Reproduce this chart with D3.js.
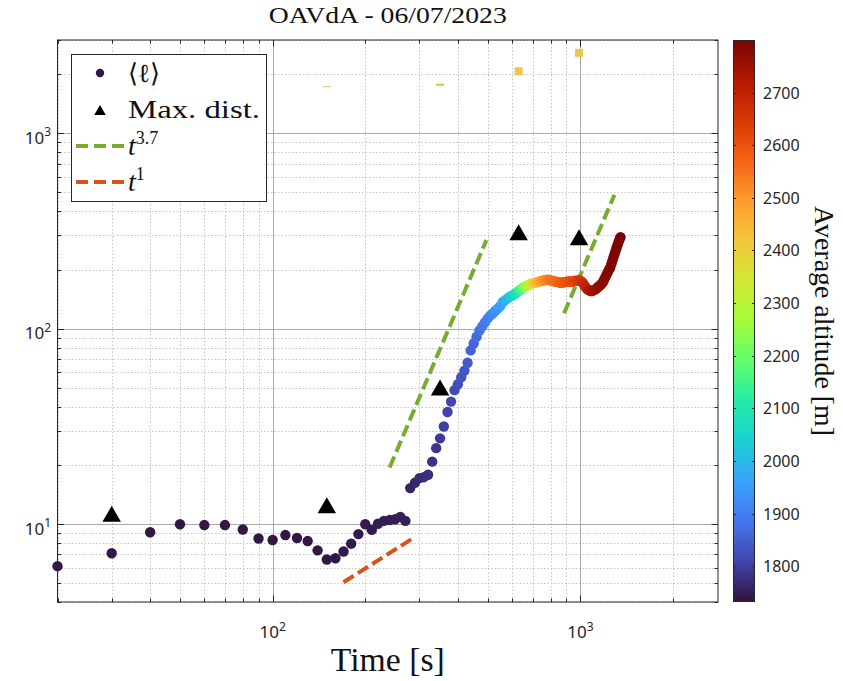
<!DOCTYPE html>
<html>
<head>
<meta charset="utf-8">
<script src="https://cdn.jsdelivr.net/npm/d3@7"></script>
<style>
  body { margin: 0; background: #fff; }
  svg { display: block; }
</style>
</head>
<body>
<svg id="chart" width="843" height="681"></svg>
<script>
// ---- data ----------------------------------------------------------------
// sampling times [s]
const times = [
  20,30,40,50,60,70,80,90,100,110,
  120,130,140,150,160,170,180,190,200,210,
  220,230,240,250,260,270,280,290,300,310,
  320,330,340,350,360,370,380,390,400,410,
  420,430,440,450,460,470,480,490,500,510,
  520,530,540,550,560,570,580,590,600,610,
  620,630,640,650,660,670,680,690,700,710,
  720,730,740,750,760,770,780,790,800,810,
  820,830,840,850,860,870,880,890,900,910,
  920,930,940,950,960,970,980,990,1000,1010,
  1020,1030,1040,1050,1060,1070,1080,1090,1100,1110,
  1120,1130,1140,1150,1160,1170,1180,1190,1200,1210,
  1220,1230,1240,1250,1260,1270,1280,1290,1300,1310,
  1320,1330,1340,1350
];
// mean distance <l> [m]
const meanDist = [
  6.1,7.1,9.1,10.0,9.9,9.9,9.4,8.45,8.3,8.8,
  8.5,8.2,7.35,6.6,6.7,7.25,7.95,8.9,10.0,9.35,
  10.05,10.4,10.5,10.6,10.9,10.4,15.3,16.3,17.2,17.4,
  17.9,20.9,24.5,27.5,31.6,37.5,42.4,48.5,52,56.5,
  61,67,77.5,84,91,98,103,108,113,117,
  120,124,127,131,137,140,143,146,148,150,
  153,156,159,162,164,166,168,170,171,172,
  173,174,175,176,177,177,178,178,177,176,
  175,174,174,173,172,172,173,173,174,174,
  175,174,174,175,176,176,176,177,176,174,
  171,167,163,160,158,157,156,156,157,158,
  159,161,163,165,167,169,172,176,181,186,
  191,196,201,206,214,222,231,240,249,259,
  268,277,286,294
];
// average altitude of the group [m]
const altitude = [
  1741,1740,1740,1739,1739,1739,1739,1739,1739,1739,
  1740,1740,1740,1741,1741,1742,1743,1744,1745,1746,
  1747,1748,1749,1750,1751,1752,1758,1763,1768,1772,
  1777,1783,1788,1794,1800,1806,1812,1818,1824,1830,
  1837,1845,1853,1861,1869,1877,1885,1893,1901,1910,
  1920,1931,1943,1956,1970,1986,2003,2021,2040,2062,
  2088,2118,2150,2185,2222,2260,2298,2335,2370,2402,
  2430,2455,2476,2494,2508,2520,2530,2538,2545,2551,
  2557,2562,2567,2572,2577,2582,2587,2592,2597,2602,
  2607,2612,2617,2622,2628,2634,2641,2648,2656,2665,
  2675,2685,2695,2705,2714,2722,2729,2735,2741,2746,
  2751,2755,2759,2763,2766,2769,2772,2775,2777,2779,
  2781,2783,2785,2787,2789,2790,2792,2793,2794,2795,
  2796,2797,2798,2799
];
// maximum distance
const maxTimes = [30, 150, 350, 630, 990];
const maxDist  = [11.3, 12.5, 50, 312, 294];
// altitude ranges recorded at the same instants
const altMarkTimes = [150, 350, 630, 990];
const altMarkLow   = [1722, 1744, 1980, 2459];
const altMarkHigh  = [1740, 1796, 2176, 2702];
// power-law guides (end points)
const steepGuideA_T = [240, 495];
const steepGuideA_V = [19.5, 284];
const steepGuideB_T = [885, 1290];
const steepGuideB_V = [120, 484];
const linearGuide_T = [170, 290];
const linearGuide_V = [5.05, 8.6];
// axis ticks
const xMajorTicks = [100, 1000];
const yMajorTicks = [10, 100, 1000];
const cbarTicks = [1800, 1900, 2000, 2100, 2200, 2300, 2400, 2500, 2600, 2700];
const altRange = [1732, 2800];
// turbo colormap stops
const turboStops = ['#30123b','#4145ab','#4675ed','#39a2fc','#1bcfd4','#24eca6','#61fc6c',
  '#a4fc3b','#d1e834','#f3c63a','#fe9b2d','#f36315','#d93806','#b11901','#7a0403'];

// ---- layout ----------------------------------------------------------------
const svg = d3.select('#chart');
const L = 57.5, R = 718, T = 40, B = 602;
const serif = '"Liberation Serif", "Times New Roman", serif';
const sans = '"Noto Sans", "Open Sans", sans-serif';
const GREEN = '#77ac30', ORANGE = '#d95319';

svg.append('rect').attr('width', 843).attr('height', 681).attr('fill', '#fff');

const x = d3.scaleLog().domain([20, 2800]).range([L, R]);
const y = d3.scaleLog().domain([4, 3000]).range([B, T]);

const colorDomain = turboStops.map((_, i) => altRange[0] + i * (altRange[1] - altRange[0]) / (turboStops.length - 1));
const color = d3.scaleLinear().domain(colorDomain).range(turboStops).interpolate(d3.interpolateRgb).clamp(true);

const isMajor = v => Math.abs(Math.log10(v) - Math.round(Math.log10(v))) < 1e-9;
const xMinor = x.ticks().filter(v => !isMajor(v));
const yMinor = y.ticks().filter(v => !isMajor(v));

// ---- grid ------------------------------------------------------------------
const grid = svg.append('g');
grid.selectAll('.xm').data(xMinor).join('line')
  .attr('x1', d => Math.round(x(d)) + 0.5).attr('x2', d => Math.round(x(d)) + 0.5)
  .attr('y1', T).attr('y2', B)
  .attr('stroke', '#c4c4c4').attr('stroke-dasharray', '1.5,2').attr('stroke-width', 1);
grid.selectAll('.ym').data(yMinor).join('line')
  .attr('y1', d => Math.round(y(d)) + 0.5).attr('y2', d => Math.round(y(d)) + 0.5)
  .attr('x1', L).attr('x2', R)
  .attr('stroke', '#c4c4c4').attr('stroke-dasharray', '1.5,2').attr('stroke-width', 1);
grid.selectAll('.xM').data(xMajorTicks).join('line')
  .attr('x1', d => Math.round(x(d)) + 0.5).attr('x2', d => Math.round(x(d)) + 0.5)
  .attr('y1', T).attr('y2', B).attr('stroke', '#aaaaaa').attr('stroke-width', 1);
grid.selectAll('.yM').data(yMajorTicks).join('line')
  .attr('y1', d => Math.round(y(d)) + 0.5).attr('y2', d => Math.round(y(d)) + 0.5)
  .attr('x1', L).attr('x2', R).attr('stroke', '#aaaaaa').attr('stroke-width', 1);

// ---- axis box and inward ticks ----------------------------------------------
const axisG = svg.append('g').attr('stroke', '#262626').attr('stroke-width', 1);
const tickLen = v => isMajor(v) ? 6.5 : 3.5;
x.ticks().forEach(v => {
  const px = Math.round(x(v)) + 0.5;
  axisG.append('line').attr('x1', px).attr('x2', px).attr('y1', B).attr('y2', B - tickLen(v));
  axisG.append('line').attr('x1', px).attr('x2', px).attr('y1', T).attr('y2', T + tickLen(v));
});
y.ticks().forEach(v => {
  const py = Math.round(y(v)) + 0.5;
  axisG.append('line').attr('y1', py).attr('y2', py).attr('x1', L).attr('x2', L + tickLen(v));
  axisG.append('line').attr('y1', py).attr('y2', py).attr('x1', R).attr('x2', R - tickLen(v));
});
axisG.append('rect').attr('x', L).attr('y', T).attr('width', R - L).attr('height', B - T)
  .attr('fill', 'none');

// tick labels
function powerLabel(sel, exp) {
  sel.append('tspan').text('10');
  sel.append('tspan').attr('dy', -7.5).attr('font-size', 12).text(exp);
}
xMajorTicks.forEach(v => {
  const t = svg.append('text').attr('x', x(v)).attr('y', 638)
    .attr('text-anchor', 'middle').attr('font-family', sans).attr('font-size', 17).attr('fill', '#262626');
  powerLabel(t, String(Math.round(Math.log10(v))));
});
yMajorTicks.forEach(v => {
  const t = svg.append('text').attr('x', 51).attr('y', y(v) + 10.5)
    .attr('text-anchor', 'end').attr('font-family', sans).attr('font-size', 17).attr('fill', '#262626');
  powerLabel(t, String(Math.round(Math.log10(v))));
});

// ---- titles -----------------------------------------------------------------
svg.append('text').attr('x', (L + R) / 2).attr('y', 23).attr('text-anchor', 'middle')
  .attr('font-family', serif).attr('font-size', 23).attr('fill', '#111')
  .attr('textLength', 238).attr('lengthAdjust', 'spacingAndGlyphs').text('OAVdA - 06/07/2023');
svg.append('text').attr('x', (L + R) / 2).attr('y', 671).attr('text-anchor', 'middle')
  .attr('font-family', serif).attr('font-size', 33).attr('fill', '#111')
  .attr('textLength', 114).attr('lengthAdjust', 'spacingAndGlyphs').text('Time [s]');

// ---- power-law guides --------------------------------------------------------
const guide = (ts, vs, c) => svg.append('line')
  .attr('x1', x(ts[0])).attr('y1', y(vs[0])).attr('x2', x(ts[1])).attr('y2', y(vs[1]))
  .attr('stroke', c).attr('stroke-width', 4).attr('stroke-dasharray', '12,5');
guide(steepGuideA_T, steepGuideA_V, GREEN);
guide(steepGuideB_T, steepGuideB_V, GREEN);
guide(linearGuide_T, linearGuide_V, ORANGE);

// ---- altitude range marks ----------------------------------------------------
svg.append('g').selectAll('rect').data(altMarkTimes).join('rect')
  .attr('x', d => x(d) - 4).attr('width', 8)
  .attr('y', (d, i) => y(altMarkHigh[i]))
  .attr('height', (d, i) => Math.max(1, y(altMarkLow[i]) - y(altMarkHigh[i])))
  .attr('fill', '#e8c84c');

// ---- mean distance, coloured by altitude -------------------------------------
svg.append('g').selectAll('circle').data(times).join('circle')
  .attr('cx', d => x(d)).attr('cy', (d, i) => y(meanDist[i])).attr('r', 5.2)
  .attr('fill', (d, i) => color(altitude[i]));

// ---- maximum distance --------------------------------------------------------
const tri = (w, h) => `M0,${-h / 2}L${w / 2},${h / 2}L${-w / 2},${h / 2}Z`;
svg.append('g').selectAll('path').data(maxTimes).join('path')
  .attr('transform', (d, i) => `translate(${x(d)},${y(maxDist[i])})`)
  .attr('d', tri(18.5, 16)).attr('fill', '#000');

// ---- legend -----------------------------------------------------------------
const lg = svg.append('g');
lg.append('rect').attr('x', 71.5).attr('y', 54.5).attr('width', 195).attr('height', 147)
  .attr('fill', '#fff').attr('stroke', '#262626').attr('stroke-width', 1);
lg.append('circle').attr('cx', 100).attr('cy', 73).attr('r', 4.2).attr('fill', color(altitude[0]));
lg.append('path').attr('transform', 'translate(100,110)').attr('d', tri(11.5, 10)).attr('fill', '#000');
lg.append('line').attr('x1', 76).attr('x2', 124).attr('y1', 146).attr('y2', 146)
  .attr('stroke', GREEN).attr('stroke-width', 4).attr('stroke-dasharray', '12,6');
lg.append('line').attr('x1', 76).attr('x2', 124).attr('y1', 182).attr('y2', 182)
  .attr('stroke', ORANGE).attr('stroke-width', 4).attr('stroke-dasharray', '12,6');
const lt = (yy) => lg.append('text').attr('x', 128).attr('y', yy)
  .attr('font-family', serif).attr('font-size', 26).attr('fill', '#111');
lt(82).attr('textLength', 32).attr('lengthAdjust', 'spacingAndGlyphs').text('⟨ℓ⟩');
lt(118).attr('textLength', 132).attr('lengthAdjust', 'spacingAndGlyphs').text('Max. dist.');
const t37 = lt(155);
t37.append('tspan').attr('font-style', 'italic').attr('font-size', 28).text('t');
t37.append('tspan').attr('dy', -11).attr('font-size', 18).text('3.7');
const t1 = lt(191);
t1.append('tspan').attr('font-style', 'italic').attr('font-size', 28).text('t');
t1.append('tspan').attr('dy', -11).attr('font-size', 18).text('1');

// ---- colorbar ---------------------------------------------------------------
const cbX = 733, cbW = 22;
const cy = d3.scaleLinear().domain(altRange).range([B, T]);
const grad = svg.append('defs').append('linearGradient').attr('id', 'turbo')
  .attr('x1', 0).attr('y1', 1).attr('x2', 0).attr('y2', 0);
turboStops.forEach((c, i) => grad.append('stop')
  .attr('offset', i / (turboStops.length - 1)).attr('stop-color', c));
svg.append('rect').attr('x', cbX).attr('y', T).attr('width', cbW).attr('height', B - T)
  .attr('fill', 'url(#turbo)');
svg.append('rect').attr('x', cbX + 0.5).attr('y', T + 0.5).attr('width', cbW - 1).attr('height', B - T - 1)
  .attr('fill', 'none').attr('stroke', '#262626').attr('stroke-width', 1);
cbarTicks.forEach(v => {
  const py = Math.round(cy(v)) + 0.5;
  svg.append('line').attr('x1', cbX + cbW).attr('x2', cbX + cbW - 3).attr('y1', py).attr('y2', py)
    .attr('stroke', '#262626');
  svg.append('line').attr('x1', cbX).attr('x2', cbX + 3).attr('y1', py).attr('y2', py)
    .attr('stroke', '#262626');
  svg.append('text').attr('x', cbX + cbW + 8).attr('y', cy(v) + 6)
    .attr('font-family', sans).attr('font-size', 16).attr('fill', '#262626').text(v);
});
svg.append('text').attr('transform', `translate(815,${(T + B) / 2}) rotate(90)`)
  .attr('text-anchor', 'middle').attr('font-family', serif).attr('font-size', 27)
  .attr('fill', '#111').attr('textLength', 230).attr('lengthAdjust', 'spacingAndGlyphs')
  .text('Average altitude [m]');
</script>
</body>
</html>
